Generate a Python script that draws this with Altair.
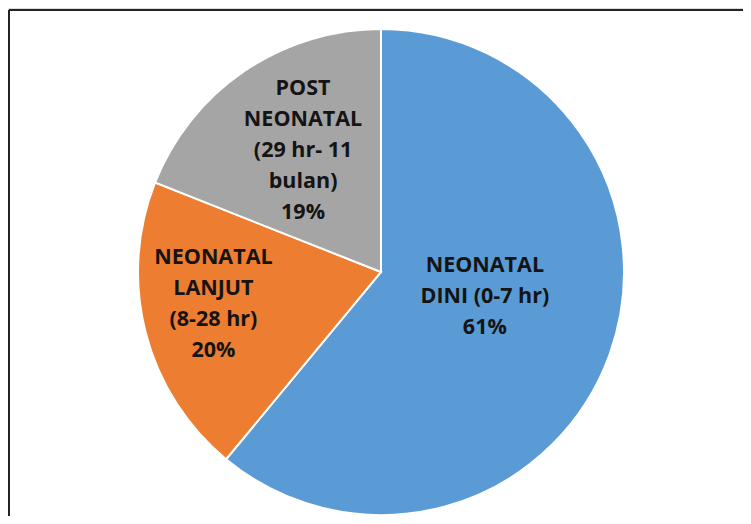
import altair as alt
import pandas as pd

categories = ["NEONATAL\nDINI (0-7 hr)", "NEONATAL\nLANJUT\n(8-28 hr)", "POST\nNEONATAL\n(29 hr- 11\nbulan)"]
keys = ["dini", "lanjut", "post"]
percent = [61, 20, 19]
colors = ["#5B9BD5", "#ED7D31", "#A5A5A5"]

df = pd.DataFrame({"name": categories, "key": keys, "pct": percent, "k": list(range(len(keys)))})

W, H = 735, 508
CX, CY = 373, 264
R = 243

base = alt.Chart(df).transform_calculate(
    label="datum.name + '\\n' + datum.pct + '%'"
).encode(
    theta=alt.Theta("pct:Q", stack=True),
    order=alt.Order("k:Q"),
)

pie = base.mark_arc(x=CX, y=CY, outerRadius=R, stroke="white", strokeWidth=2).encode(
    color=alt.Color("key:N", scale=alt.Scale(domain=keys, range=colors), legend=None)
)

label_pos = {"dini": (104, 6, -41), "lanjut": (173, 0, -57), "post": (144, 3, -64)}
texts = []
for key in keys:
    r, dx, dy = label_pos[key]
    texts.append(
        base.mark_text(
            x=CX, y=CY, radius=r, dx=dx, dy=dy,
            font="Open Sans", fontWeight="bold", fontSize=21.5,
            lineBreak="\n", lineHeight=31, align="center", baseline="middle",
            color="#141414",
        ).encode(
            text=alt.condition(alt.datum.key == key, alt.Text("label:N"), alt.value(""))
        )
    )

left_rule = alt.Chart(df).mark_rule(color="#222222", strokeWidth=1.5).encode(
    x=alt.value(1), y=alt.value(2), y2=alt.value(H)
)
top_rule = alt.Chart(df).mark_rule(color="#222222", strokeWidth=1.5).encode(
    x=alt.value(1), x2=alt.value(W), y=alt.value(2)
)

chart = alt.layer(pie, *texts, left_rule, top_rule).properties(
    width=W, height=H, padding=0, autosize=alt.AutoSizeParams(type="none")
).configure_view(stroke=None).configure(background="white")

chart.save("out.html", embed_options={"renderer": "svg", "actions": False})
